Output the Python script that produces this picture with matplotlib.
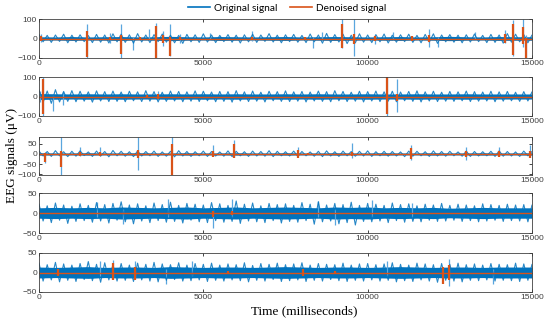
import numpy as np
import matplotlib
matplotlib.use('Agg')
import matplotlib.pyplot as plt
from matplotlib.lines import Line2D

# time grids (ms): upper peaks on t_fine, lower peaks half a step later
t_fine = np.linspace(0, 15000, 61)
t_core = np.linspace(0, 15000, 31)

# ---- panel 1 ----
p1_up = [20, 16, 18, 22, 17, 19, 15, 21, 18, 24,
         22, 19, 25, 18, 20, 23, 17, 16, 21, 19,
         24, 18, 16, 20, 17, 19, 22, 18, 25, 17,
         19, 21, 16, 23, 18, 26, 20, 22, 17, 24,
         18, 20, 23, 17, 19, 22, 16, 21, 24, 18,
         20, 17, 19, 23, 16, 21, 18, 25, 22, 20,
         18]
p1_lo = [-17, -20, -15, -22, -18, -16, -21, -19, -23, -17,
         -20, -24, -18, -21, -16, -19, -22, -25, -17, -20,
         -18, -21, -16, -19, -23, -17, -20, -15, -18, -22,
         -16, -19, -21, -17, -24, -20, -18, -26, -22, -19,
         -21, -17, -23, -19, -16, -20, -22, -18, -25, -17,
         -19, -22, -18, -16, -21, -20, -24, -19, -17, -22,
         -18]
p1_core = [9, 8, 10, 8, 9, 10, 8, 9, 11, 9, 8, 10, 9, 8, 9, 10,
           8, 9, 10, 9, 8, 9, 10, 8, 9, 11, 9, 8, 10, 9, 9]
p1_spikes = [(50, 22, -20), (1470, 75, -100), (2160, 28, -25), (2485, 72, -100),
             (2870, 10, -60), (3360, 48, -10), (3550, 78, -100), (3785, 38, -38),
             (3990, 72, -92), (4290, 22, -25), (5200, 28, -10), (6470, 38, -15),
             (8340, 10, -48), (8600, 32, -10), (9210, 100, -48), (9585, 100, -92),
             (10225, 10, -28), (10780, 32, -10), (11875, 48, -42), (12150, 10, -42),
             (13270, 32, -10), (14180, 42, -22), (14430, 96, -88), (14740, 98, -42),
             (14810, 20, -100)]
p1_denoised = [(50, 15, -15), (1470, 40, -95), (2160, 8, -8), (2485, 20, -78),
               (3070, 8, -8), (3550, 65, -98), (3785, 20, -22), (3990, 10, -88),
               (4290, 8, -8), (6470, 10, -10), (8094, 10, -10), (9210, 72, -50),
               (9585, 25, -30), (10225, 15, -15), (11340, 15, -15), (11875, 20, -20),
               (14180, 25, -25), (14430, 75, -85), (14740, 60, -30), (14810, 5, -100)]

# ---- panel 2 ----
p2_up = [32, 28, 35, 26, 30, 27, 24, 29, 25, 28,
         23, 27, 24, 30, 25, 22, 28, 26, 24, 29,
         27, 23, 26, 25, 30, 24, 28, 22, 27, 25,
         29, 24, 26, 23, 28, 25, 30, 26, 22, 27,
         25, 28, 24, 27, 23, 26, 29, 24, 27, 22,
         26, 24, 28, 25, 23, 27, 24, 26, 22, 25,
         24]
p2_lo = [-30, -35, -28, -25, -27, -24, -29, -23, -26, -25,
         -27, -22, -26, -24, -28, -25, -23, -27, -24, -26,
         -22, -27, -25, -29, -23, -26, -24, -28, -22, -25,
         -26, -24, -28, -23, -25, -27, -22, -26, -24, -28,
         -23, -26, -24, -27, -22, -25, -28, -23, -26, -24,
         -25, -22, -26, -24, -23, -27, -24, -22, -25, -23,
         -24]
p2_core = [15, 14, 13, 14, 13, 14, 13, 13, 14, 13, 14, 13, 14, 13, 13, 14,
           13, 14, 13, 13, 14, 13, 13, 14, 13, 13, 14, 13, 13, 13, 13]
p2_spikes = [(20, 30, -30), (110, 98, -98), (435, 10, -72), (740, 25, -42),
             (3630, 28, -15), (10580, 100, -100), (10905, 88, -78)]
p2_denoised = [(110, 90, -88), (3280, 8, -8), (3630, 12, -12),
               (10580, 100, -92), (10905, 15, -22)]

# ---- panel 3 ----
p3_up = [14, 12, 16, 11, 13, 15, 10, 14, 12, 17,
         13, 11, 15, 12, 14, 10, 13, 16, 12, 11,
         14, 12, 10, 15, 13, 11, 14, 12, 16, 13,
         11, 14, 12, 10, 13, 15, 11, 14, 12, 13,
         15, 11, 13, 12, 10, 14, 13, 11, 15, 12,
         13, 10, 14, 12, 11, 13, 15, 12, 10, 14,
         12]
p3_lo = [-10, -12, -9, -13, -11, -8, -12, -10, -14, -9,
         -11, -13, -10, -9, -12, -11, -14, -10, -12, -9,
         -12, -10, -11, -13, -9, -12, -10, -11, -13, -9,
         -10, -12, -9, -11, -13, -10, -12, -9, -11, -10,
         -12, -9, -11, -10, -13, -11, -9, -12, -10, -11,
         -9, -11, -12, -10, -9, -12, -11, -10, -12, -9,
         -10]
p3_core = [6, 5, 5, 6, 5, 5, 6, 5, 5, 6, 5, 5, 6, 5, 5, 6,
           5, 5, 6, 5, 5, 6, 5, 5, 6, 5, 5, 6, 5, 5, 6]
p3_spikes = [(180, 10, -42), (660, 83, -103), (1250, 32, -10), (1855, 32, -12),
             (3000, 83, -78), (4040, 83, -20), (5305, 45, -12), (5945, 68, -15),
             (7870, 32, -12), (9515, 52, -22), (11320, 42, -32), (12990, 32, -28),
             (14010, 32, -12), (14940, 42, -15)]
p3_denoised = [(180, 5, -38), (660, 15, -62), (1250, 10, -10), (1855, 10, -10),
               (3000, 20, -20), (4040, 50, -103), (5305, 15, -15), (5945, 50, -20),
               (7870, 20, -20), (8185, 5, -5), (9515, 10, -10), (11320, 30, -25),
               (12990, 15, -15), (14010, 15, -15), (14940, 15, -20)]

# ---- panel 4 ----
p4_up = [22, 18, 25, 20, 17, 23, 19, 26, 21, 24,
         28, 20, 23, 18, 25, 21, 27, 19, 24, 22,
         20, 26, 23, 19, 30, 22, 25, 18, 24, 21,
         23, 19, 26, 22, 28, 20, 24, 21, 27, 19,
         24, 22, 19, 25, 21, 23, 18, 22, 20, 24,
         19, 22, 20, 18, 23, 21, 19, 22, 20, 21,
         20]
p4_lo = [-20, -24, -18, -26, -21, -19, -23, -20, -25, -18,
         -22, -27, -20, -24, -19, -23, -21, -25, -18, -22,
         -24, -19, -23, -21, -26, -20, -22, -24, -19, -25,
         -21, -23, -19, -28, -22, -20, -27, -24, -30, -21,
         -22, -20, -24, -19, -23, -21, -22, -18, -21, -20,
         -18, -21, -19, -22, -20, -18, -21, -19, -20, -22,
         -20]
p4_core = [13, 14, 13, 14, 13, 15, 14, 13, 14, 15, 13, 14, 15, 13, 14, 15,
           14, 13, 15, 14, 15, 13, 14, 13, 14, 12, 13, 14, 13, 13, 13]
p4_spikes = [(1755, 28, -10), (2560, 10, -28), (3930, 36, -10), (5285, 10, -38),
             (5880, 36, -10), (8500, 30, -10), (9010, 10, -30), (10125, 32, -10),
             (11360, 26, -10)]
p4_denoised = [(5285, 5, -10), (5880, 5, -5)]

# ---- panel 5 ----
p5_up = [24, 20, 26, 22, 19, 23, 28, 21, 25, 20,
         23, 19, 24, 21, 26, 22, 20, 25, 19, 23,
         21, 24, 19, 22, 20, 25, 18, 23, 21, 24,
         20, 22, 25, 19, 23, 21, 20, 24, 19, 22,
         23, 20, 22, 25, 21, 19, 24, 22, 20, 23,
         21, 24, 20, 22, 19, 23, 21, 20, 24, 22,
         21]
p5_lo = [-22, -19, -24, -20, -23, -18, -21, -25, -19, -22,
         -20, -23, -19, -22, -24, -20, -18, -22, -21, -19,
         -23, -20, -22, -19, -21, -24, -20, -22, -18, -23,
         -21, -19, -23, -20, -22, -18, -21, -23, -20, -22,
         -19, -22, -20, -24, -21, -23, -19, -22, -25, -20,
         -22, -24, -20, -21, -19, -22, -20, -21, -23, -20,
         -21]
p5_core = [14, 13, 14, 15, 13, 14, 14, 13, 15, 14, 13, 14, 14, 13, 14, 15,
           14, 13, 14, 14, 13, 14, 15, 14, 13, 14, 14, 13, 14, 14, 14]
p5_spikes = [(1855, 30, -10), (2260, 32, -15), (2920, 30, -15), (3850, 10, -30),
             (4640, 30, -10), (10600, 30, -10), (12485, 35, -35), (13800, 10, -30)]
p5_denoised = [(590, 8, -8), (2260, 25, -20), (2920, 15, -20), (5760, 5, -5),
               (8045, 8, -8), (9010, 5, -5), (12285, 15, -30), (12485, 20, -20)]

ylims = [(-100, 100), (-100, 100), (-103, 83), (-50, 50), (-50, 50)]
yticks = [[-100, 0, 100], [-100, 0, 100], [-100, -50, 0, 50], [-50, 0, 50], [-50, 0, 50]]
xticks = [0, 5000, 10000, 15000]

panels = [(p1_up, p1_lo, p1_core, p1_spikes, p1_denoised),
          (p2_up, p2_lo, p2_core, p2_spikes, p2_denoised),
          (p3_up, p3_lo, p3_core, p3_spikes, p3_denoised),
          (p4_up, p4_lo, p4_core, p4_spikes, p4_denoised),
          (p5_up, p5_lo, p5_core, p5_spikes, p5_denoised)]

# axes boxes in pixels (top, bottom) of a 550x321 canvas
boxes = [(19, 58), (77, 116), (137, 175), (193, 233), (253, 292)]

BLUE = '#0072BD'
LIGHT = '#5AA6DE'
ORANGE = '#D95319'
W, H = 550, 321

fig = plt.figure(figsize=(5.5, 3.21), dpi=100)

for (up, lo, core, spikes, den), (top, bot), yl, yt in zip(panels, boxes, ylims, yticks):
    ax = fig.add_axes([39 / W, 1 - bot / H, (532 - 39) / W, (bot - top) / H])
    core = np.array(core)
    st, shi, slo = zip(*spikes)
    ax.vlines(st, slo, shi, color=LIGHT, lw=0.9)
    # trace alternating between upper and lower peaks
    tz = np.column_stack([t_fine, t_fine + 125]).ravel()
    yz = np.column_stack([up, lo]).ravel()
    ax.plot(tz, yz, color=BLUE, lw=0.8, alpha=0.85)
    ax.fill_between(t_core, -core, core, color=BLUE, lw=0)
    ax.plot([0, 15000], [0, 0], color=ORANGE, lw=1.0)
    dt, dhi, dlo = zip(*den)
    ax.vlines(dt, dlo, dhi, color=ORANGE, lw=1.6)
    ax.set_xlim(0, 15000)
    ax.set_ylim(*yl)
    ax.set_xticks(xticks)
    ax.set_xticklabels([str(v) for v in xticks])
    ax.set_yticks(yt)
    ax.tick_params(direction='in', length=2.5, width=0.6, color='#262626',
                   labelsize=6, labelcolor='#404040', pad=1.5,
                   top=True, right=True)
    for lab in ax.get_xticklabels() + ax.get_yticklabels():
        lab.set_family('Liberation Sans')
    for s in ax.spines.values():
        s.set_color('#404040')
        s.set_linewidth(0.6)

handles = [Line2D([], [], color=BLUE, lw=1.2), Line2D([], [], color=ORANGE, lw=1.2)]
fig.legend(handles, ['Original signal', 'Denoised signal'], loc='center',
           bbox_to_anchor=(287 / W, 1 - 8 / H), ncol=2, frameon=False,
           prop={'family': 'Lato', 'size': 7.3}, handlelength=2.2,
           handletextpad=0.4, columnspacing=1.2)

fig.text(12 / W, 1 - 155 / H, 'EEG signals (\u03bcV)', rotation=90, ha='center',
         va='center', family='Liberation Serif', fontsize=9.5)
fig.text(304 / W, 1 - 311 / H, 'Time (milliseconds)', ha='center', va='center',
         family='Liberation Serif', fontsize=9.5)

fig.savefig('out.png', dpi=100)
